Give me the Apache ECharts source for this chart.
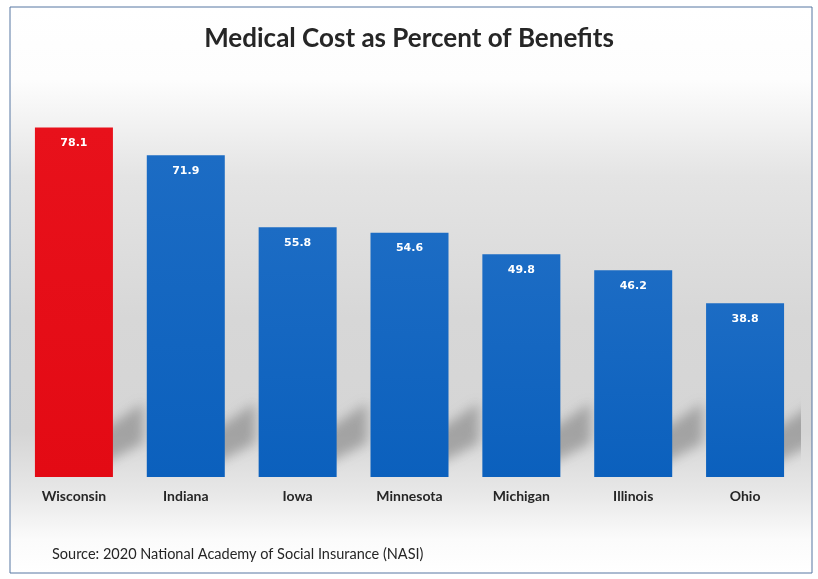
<!DOCTYPE html>
<html>
<head>
<meta charset="utf-8">
<script src="https://cdn.jsdelivr.net/npm/echarts@6/dist/echarts.min.js"></script>
<style>
  html, body { margin: 0; padding: 0; background: #ffffff; }
  #chart { width: 818px; height: 579px; }
</style>
</head>
<body>
<div id="chart"></div>
<script>
// Medical cost share of workers' compensation benefits by state (percent)
const states = ['Wisconsin', 'Indiana', 'Iowa', 'Minnesota', 'Michigan', 'Illinois', 'Ohio'];
const medicalPct = [78.1, 71.9, 55.8, 54.6, 49.8, 46.2, 38.8];
const highlightState = 'Wisconsin';

const chart = echarts.init(document.getElementById('chart'), null, { renderer: 'canvas' });

const FONT = 'Lato, "Open Sans", sans-serif';
const OFF = 3000; // shadow-only shapes are drawn off-canvas and shifted back via shadowOffsetX

function barColor(name) {
  if (name === highlightState) {
    return new echarts.graphic.LinearGradient(0, 0, 0, 1, [
      { offset: 0, color: '#e8111b' },
      { offset: 1, color: '#e30a14' }
    ]);
  }
  return new echarts.graphic.LinearGradient(0, 0, 0, 1, [
    { offset: 0, color: '#1c6cc4' },
    { offset: 1, color: '#0b60bd' }
  ]);
}

chart.setOption({
  animation: false,
  backgroundColor: '#ffffff',
  graphic: [
    {
      type: 'rect',
      z: -10,
      shape: { x: 10, y: 7, width: 802, height: 566 },
      style: {
        fill: new echarts.graphic.LinearGradient(0, 0, 0, 1, [
          { offset: 0.0, color: '#ffffff' },
          { offset: 0.13, color: '#fdfdfd' },
          { offset: 0.30, color: '#e4e4e4' },
          { offset: 0.55, color: '#d7d7d7' },
          { offset: 0.75, color: '#d5d5d5' },
          { offset: 0.86, color: '#e8e8e8' },
          { offset: 0.94, color: '#fbfbfb' },
          { offset: 1.0, color: '#ffffff' }
        ]),
        stroke: '#5676a2',
        lineWidth: 1
      }
    },
    {
      type: 'text',
      left: 52,
      top: 547,
      style: {
        text: 'Source: 2020 National Academy of Social Insurance (NASI)',
        fontFamily: FONT,
        fontSize: 14.5,
        fill: '#262626'
      }
    }
  ],
  title: {
    text: 'Medical Cost as Percent of Benefits',
    left: 'center',
    top: 21,
    textStyle: { fontFamily: FONT, fontSize: 26, fontWeight: 'bold', color: '#262626' }
  },
  grid: { left: 18, right: 17, top: 119, bottom: 102 },
  xAxis: {
    type: 'category',
    data: states,
    axisLine: { show: false },
    axisTick: { show: false },
    axisLabel: {
      margin: 12,
      fontFamily: FONT,
      fontSize: 14,
      fontWeight: 'bold',
      color: '#262626'
    }
  },
  yAxis: {
    type: 'value',
    min: 0,
    max: 80,
    show: false,
    splitLine: { show: false }
  },
  series: [
    {
      // soft floor shadow cast up and to the right of each bar
      type: 'custom',
      z: 1,
      silent: true,
      clip: true,
      data: medicalPct.map((v, i) => [i, v]),
      renderItem: function (params, api) {
        const base = api.coord([api.value(0), 0]);
        const w = api.size([1, 0])[0] * 0.70;
        const xr = base[0] + w / 2;
        const y0 = base[1];
        const len = 30;
        const rise = 26;
        const thick = 40;
        return {
          type: 'polygon',
          shape: {
            points: [
              [xr - 20 - OFF, y0 - 8],
              [xr + len - OFF, y0 - 8 - rise],
              [xr + len - OFF, y0 - 8 - rise - thick],
              [xr - 20 - OFF, y0 - 8 - thick + 8]
            ]
          },
          style: {
            fill: '#000',
            shadowBlur: 12,
            shadowOffsetX: OFF,
            shadowColor: 'rgba(120,120,120,0.55)'
          }
        };
      }
    },
    {
      type: 'bar',
      z: 2,
      barWidth: 78,
      data: medicalPct.map((v, i) => ({
        value: v,
        itemStyle: { color: barColor(states[i]) }
      })),
      label: {
        show: true,
        position: 'insideTop',
        distance: 10,
        fontFamily: '"DejaVu Sans", sans-serif',
        fontSize: 11,
        fontWeight: 'bold',
        color: '#ffffff'
      }
    }
  ]
});
</script>
</body>
</html>
